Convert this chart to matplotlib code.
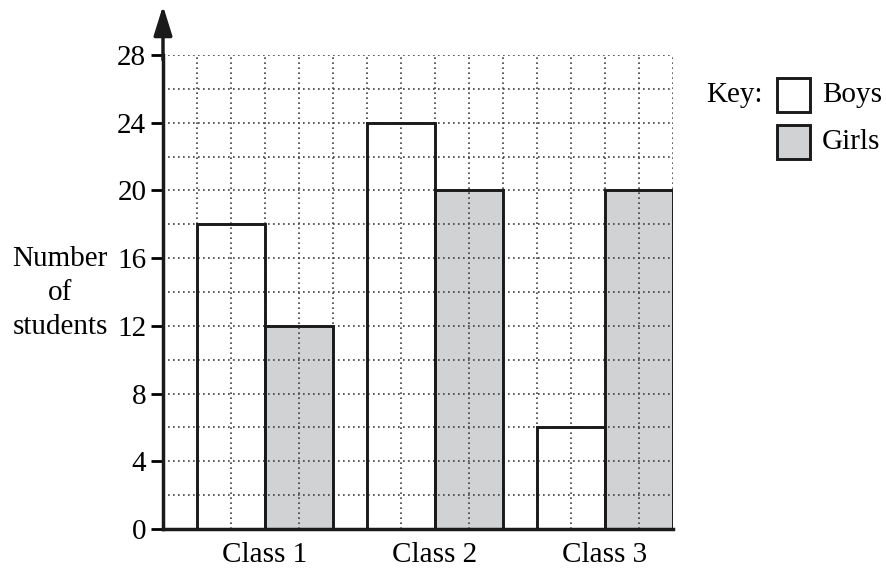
import numpy as np
import matplotlib
matplotlib.use("Agg")
import matplotlib.pyplot as plt
from matplotlib.patches import Rectangle

plt.rcParams['font.family'] = ['Liberation Serif', 'DejaVu Serif']
plt.rcParams['font.size'] = 21

classes = ['Class 1', 'Class 2', 'Class 3']
boys = [18, 24, 6]
girls = [12, 20, 20]
y_ticks = [0, 4, 8, 12, 16, 20, 24, 28]

W, H = 887, 573
fig = plt.figure(figsize=(W / 100, H / 100), dpi=100)
ax = fig.add_axes([163 / W, 1 - 529 / H, 510 / W, (529 - 55) / H])

centers = np.array([3, 8, 13])
girl_grey = '#d1d2d4'

# fills first, grid over them, then outlines on top
ax.bar(centers - 1, boys, width=2, color='white', zorder=1)
ax.bar(centers + 1, girls, width=2, color=girl_grey, zorder=1)
ax.bar(centers - 1, boys, width=2, fill=False, edgecolor='#1a1a1a', linewidth=2.1, zorder=3)
ax.bar(centers + 1, girls, width=2, fill=False, edgecolor='#1a1a1a', linewidth=2.1, zorder=3)

ax.set_xlim(0, 15)
ax.set_ylim(0, 28)
ax.set_xticks(centers)
ax.set_xticklabels(classes)
ax.set_xticks(np.arange(1, 16), minor=True)
ax.set_yticks(y_ticks)
ax.set_yticks(np.arange(2, 29, 2), minor=True)
ax.tick_params(axis='x', which='both', length=0, pad=9)
ax.tick_params(axis='y', which='major', length=9, width=2, direction='out', pad=3)
ax.tick_params(axis='y', which='minor', length=0)

ax.set_axisbelow(False)
ax.grid(True, which='both', linestyle=(0, (1, 2)), linewidth=1.2, color='#404040')
for gl in ax.get_xgridlines() + ax.get_ygridlines():
    gl.set_zorder(2)

for s in ['top', 'right']:
    ax.spines[s].set_visible(False)
for s in ['left', 'bottom']:
    ax.spines[s].set_linewidth(2.5)
    ax.spines[s].set_color('#1a1a1a')
    ax.spines[s].set_zorder(4)

# arrow at the top of the y axis
ax.annotate('', xy=(0, 1.104), xytext=(0, 0.99), xycoords='axes fraction',
            arrowprops=dict(arrowstyle='-|>,head_length=0.9,head_width=0.28',
                            mutation_scale=20, color='#1a1a1a', lw=2.5,
                            shrinkA=0, shrinkB=0), annotation_clip=False)

fig.text(60 / W, 1 - 293 / H, 'Number\nof\nstudents', ha='center', va='center',
         linespacing=1.42)

# key
fig.text(706 / W, 1 - 95 / H, 'Key:', ha='left', va='center')
fig.patches.append(Rectangle((777 / W, 1 - 112 / H), 33 / W, 34 / H, transform=fig.transFigure,
                             facecolor='white', edgecolor='#1a1a1a', linewidth=2.1))
fig.patches.append(Rectangle((777 / W, 1 - 159 / H), 33 / W, 34 / H, transform=fig.transFigure,
                             facecolor=girl_grey, edgecolor='#1a1a1a', linewidth=2.1))
fig.text(822 / W, 1 - 95 / H, 'Boys', ha='left', va='center')
fig.text(822 / W, 1 - 142 / H, 'Girls', ha='left', va='center')

fig.savefig('out.png', dpi=100)
